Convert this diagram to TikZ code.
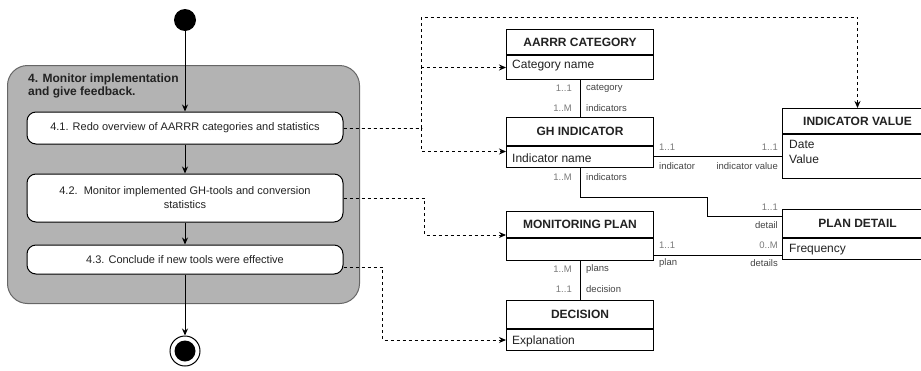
\documentclass[tikz,border=0pt]{standalone}
\usepackage{fontspec}
\setmainfont{Liberation Sans}
\usetikzlibrary{arrows.meta,calc}

\definecolor{groupfill}{HTML}{B3B3B3}
\definecolor{groupline}{HTML}{666666}
\definecolor{multnum}{HTML}{7A7A7A}
\definecolor{multrole}{HTML}{444444}
\definecolor{textdark}{HTML}{222222}

% entity box: name, x, y, width, title height, body height, title
\newcommand\entitybox[7]{%
  \node[etitle, minimum width=#4, minimum height=#5] (#1T) at (#2,#3) {#7};
  \node[ebody, minimum width=#4, minimum height=#6] (#1B) at (#1T.south) {};
}

\begin{document}
\begin{tikzpicture}[x=1pt, y=-1pt,
  flow/.style={draw=black, line width=1pt, -{Stealth[length=7pt,width=6pt]}},
  link/.style={draw=black, line width=0.9pt, dash pattern=on 3pt off 3pt,
    -{Stealth[length=7pt,width=6pt]}},
  rel/.style={draw=black, line width=1pt},
  act/.style={draw=black, fill=white, rounded corners=9pt, line width=1pt,
    minimum width=316pt, inner sep=0pt, align=center, text=textdark,
    font=\fontsize{11}{14}\selectfont},
  group/.style={draw=groupline, fill=groupfill, rounded corners=20pt,
    line width=1pt, inner sep=0pt, anchor=north west},
  etitle/.style={draw=black, fill=white, line width=1pt, inner sep=0pt,
    anchor=north west, text=textdark, font=\bfseries\fontsize{12}{14}\selectfont},
  ebody/.style={draw=black, fill=white, line width=1pt, inner sep=0pt,
    anchor=north},
  attr/.style={anchor=west, inner sep=0pt, text=textdark,
    font=\fontsize{12}{15}\selectfont},
  num/.style={inner sep=0pt, text=multnum, font=\fontsize{9.5}{11}\selectfont},
  role/.style={inner sep=0pt, text=multrole, font=\fontsize{9.5}{11}\selectfont},
]
\useasboundingbox (0,0) rectangle (921,370);

% ---------- activity part ----------
\node[group, minimum width=352pt, minimum height=238pt] (grp) at (7,65) {};
\node[anchor=north west, inner sep=0pt, align=left, text=textdark,
  font=\bfseries\fontsize{12}{12.5}\selectfont] (grpT) at (28,74)
  {4. Monitor implementation\\and give feedback.};

\node[circle, fill=black, minimum size=22pt, inner sep=0pt] (start) at (185,20) {};

\node[act, minimum height=32pt] (a41) at (185,128)
  {4.1. Redo overview of AARRR categories and statistics};
\node[act, minimum height=48pt] (a42) at (185,198)
  {4.2.\ \ Monitor implemented GH-tools and conversion\\statistics};
\node[act, minimum height=29pt] (a43) at (185,259.5)
  {4.3. Conclude if new tools were effective};

\node[circle, draw=black, fill=white, line width=1pt, minimum size=30pt,
  inner sep=0pt] (stop) at (185,351) {};
\node[circle, fill=black, minimum size=21pt, inner sep=0pt] (stopIn) at (stop) {};

\draw[flow] (start) -- (a41);
\draw[flow] (a41) -- (a42);
\draw[flow] (a42) -- (a43);
\draw[flow] (a43) -- (stop);

% ---------- data model ----------
\entitybox{aarrr}{506}{29}{147pt}{25pt}{24pt}{AARRR CATEGORY}
\entitybox{gh}{506}{117}{147pt}{28pt}{21pt}{GH INDICATOR}
\entitybox{iv}{782}{108}{150pt}{25pt}{44pt}{INDICATOR VALUE}
\entitybox{mp}{506}{211}{147pt}{26pt}{22pt}{MONITORING PLAN}
\entitybox{pd}{782}{209}{150pt}{28pt}{21pt}{PLAN DETAIL}
\entitybox{dec}{506}{300}{147pt}{28pt}{21pt}{DECISION}

\node[attr] (aarrrA) at (512,66) {Category name};
\node[attr] (ghA) at (512,158) {Indicator name};
\node[attr, anchor=north west, align=left] (ivA) at (789,140) {Date\\Value};
\node[attr] (pdA) at (789,250) {Frequency};
\node[attr] (decA) at (512,341) {Explanation};

% relations
\draw[rel] (aarrrB.south) -- (ghT.north);
\node[num, anchor=east] (m1) at (572,88) {1..1};
\node[role, anchor=west] (r1) at (586,88) {category};
\node[num, anchor=east] (m2) at (572,108) {1..M};
\node[role, anchor=west] (r2) at (586,108) {indicators};

\draw[rel] (ghB.north east) ++(0,10) coordinate (ghv) -- (ghv -| ivT.west);
\node[num, anchor=west] (m3) at (659,147) {1..1};
\node[role, anchor=west] (r3) at (659,166) {indicator};
\node[num, anchor=east] (m4) at (778,147) {1..1};
\node[role, anchor=east] (r4) at (778,166) {indicator value};

\draw[rel] (ghB.south) -- ++(0,29) -- ++(127.5,0) -- ++(0,19) coordinate (ghp)
  -- (ghp -| pdT.west);
\node[num, anchor=east] (m5) at (572,177) {1..M};
\node[role, anchor=west] (r5) at (586,177) {indicators};
\node[num, anchor=east] (m6) at (778,207) {1..1};
\node[role, anchor=east] (r6) at (778,225) {detail};

\draw[rel] (mpB.north east) ++(0,17) coordinate (mpp) -- (mpp -| pdB.west);
\node[num, anchor=west] (m7) at (659,245) {1..1};
\node[role, anchor=west] (r7) at (659,263) {plan};
\node[num, anchor=east] (m8) at (778,245) {0..M};
\node[role, anchor=east] (r8) at (778,263) {details};

\draw[rel] (mpB.south) -- (decT.north);
\node[num, anchor=east] (m9) at (572,269) {1..M};
\node[role, anchor=west] (r9) at (586,269) {plans};
\node[num, anchor=east] (m10) at (572,289) {1..1};
\node[role, anchor=west] (r10) at (586,289) {decision};

% ---------- dashed traces from activities to data ----------
\draw[link] (a41.east) -- ++(78,0) |- (aarrrB.west);
\draw[link] (a41.east) -- ++(78,0) |- ($(ghB.west)+(0,-5.5)$);
\draw[link] (a41.east) -- ++(78,0) -- ++(0,-111) -| (ivT.north);
\draw[link] (a42.east) -- ++(81,0) |- ($(mpT.south west)+(0,-3)$);
\draw[link] ($(a43.east)+(0,7.5)$) -- ++(39,0) |- (decB.west);

\end{tikzpicture}
\end{document}
